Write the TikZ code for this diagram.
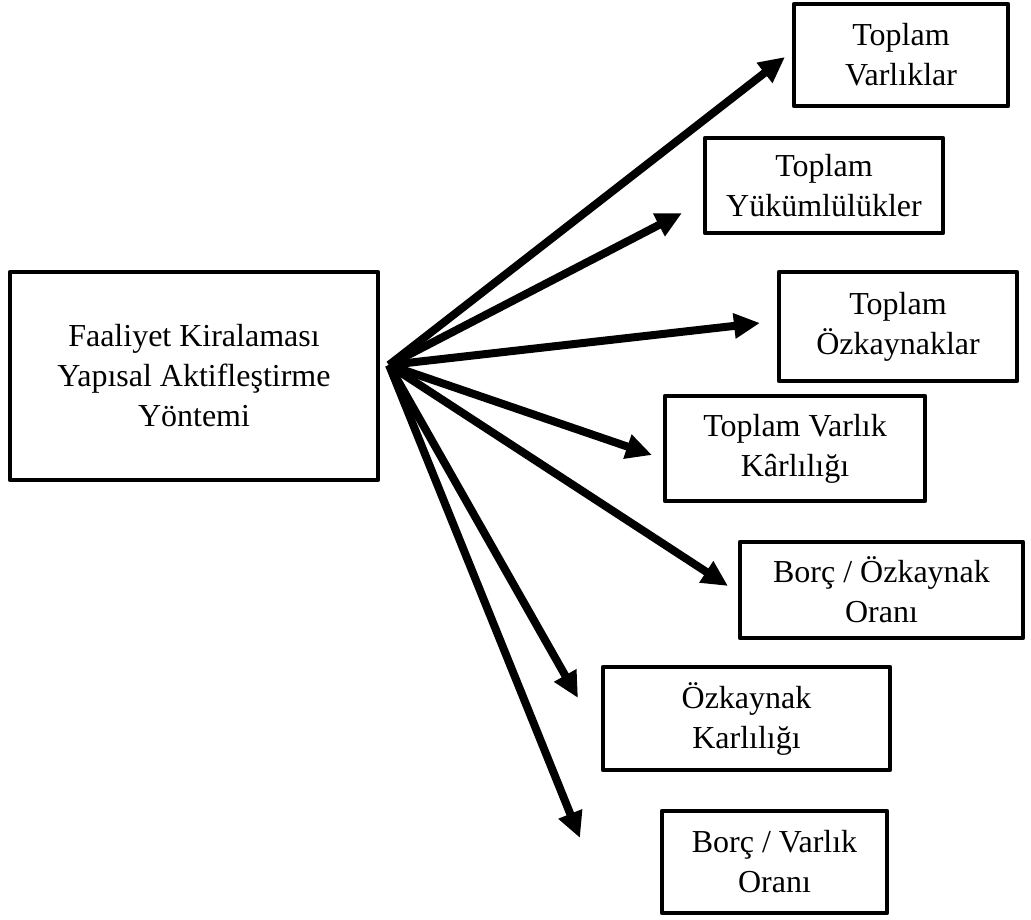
\documentclass[tikz,border=0pt]{standalone}
\usepackage{fontspec}
\setmainfont{Liberation Serif}
\usetikzlibrary{arrows.meta}
\tikzset{
  box/.style={draw, line width=2.4pt, line join=round, align=center, inner sep=2pt,
    font=\fontsize{16}{20}\selectfont},
  link/.style={line width=4pt, -{Triangle[length=13pt,width=12pt]}},
}

\begin{document}
\begin{tikzpicture}[x=0.5pt, y=-0.5pt]
	\useasboundingbox (0,0) rectangle (1031,919);
	% basic structure
	\node (yontem)[box, minimum width=184pt, minimum height=104pt] at (194,376) {Faaliyet Kiralaması\\Yapısal Aktifleştirme\\Yöntemi};
	\coordinate (hub) at (389,365);
	% Ratios
	\node (varlik)[box, minimum width=107pt, minimum height=51pt] at (901,55) {Toplam\\Varlıklar};
	\node (yukum)[box, minimum width=119pt, minimum height=47.5pt] at (824,185.5) {Toplam\\Yükümlülükler};
	\node (ozkay)[box, minimum width=119pt, minimum height=54.5pt] at (898,326.5) {Toplam\\Özkaynaklar};
	\node (vkar)[box, minimum width=130pt, minimum height=52.5pt] at (795,448.5) {Toplam Varlık\\Kârlılığı};
	\node (boz)[box, minimum width=141.5pt, minimum height=48pt] at (881.5,590) {Borç / Özkaynak\\Oranı};
	\node (okar)[box, minimum width=143.5pt, minimum height=51.5pt] at (746.5,718.5) {Özkaynak\\Karlılığı};
	\node (bv)[box, minimum width=112.5pt, minimum height=51pt] at (774.5,862) {Borç / Varlık\\Oranı};
	% Arrow ends
	\coordinate (e1) at (785,57);
	\coordinate (e2) at (682,213);
	\coordinate (e3) at (760,323);
	\coordinate (e4) at (652,455);
	\coordinate (e5) at (728,586);
	\coordinate (e6) at (578,698);
	\coordinate (e7) at (580,838);
	% Arrows
	\draw [link] (hub) -- (e1);
	\draw [link] (hub) -- (e2);
	\draw [link] (hub) -- (e3);
	\draw [link] (hub) -- (e4);
	\draw [link] (hub) -- (e5);
	\draw [link] (hub) -- (e6);
	\draw [link] (hub) -- (e7);
\end{tikzpicture}
\end{document}
